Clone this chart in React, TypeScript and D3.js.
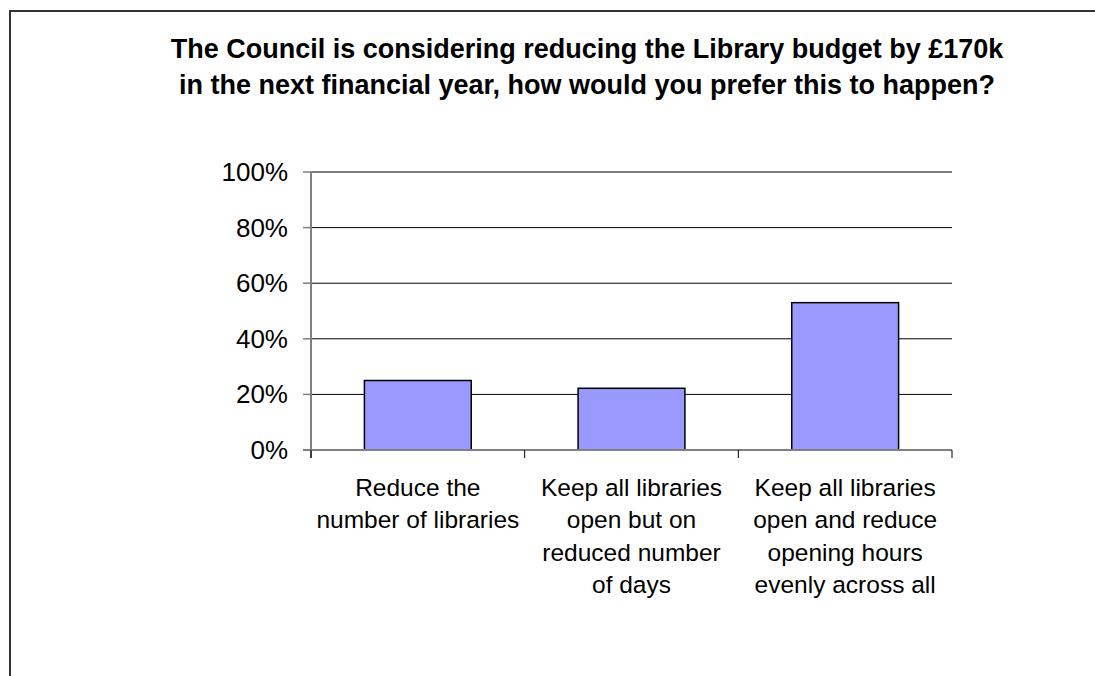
import React from "react";
import * as d3 from "d3";

const titleLines = [
  "The Council is considering reducing the Library budget by £170k",
  "in the next financial year, how would you prefer this to happen?",
];
const categories = [
  "Reduce the number of libraries",
  "Keep all libraries open but on reduced number of days",
  "Keep all libraries open and reduce opening hours evenly across all",
];
const categoryLines = [
  ["Reduce the", "number of libraries"],
  ["Keep all libraries", "open but on", "reduced number", "of days"],
  ["Keep all libraries", "open and reduce", "opening hours", "evenly across all"],
];
const values = [0.25, 0.222, 0.53];
const yTicks = [0, 0.2, 0.4, 0.6, 0.8, 1.0];

const W = 1095;
const H = 676;
const plot = { left: 311, right: 952, top: 172, bottom: 450 };
const FONT = "'Liberation Sans', Arial, Helvetica, sans-serif";

export default function App() {
  const x = d3
    .scaleBand<string>()
    .domain(categories)
    .range([plot.left, plot.right])
    .paddingInner(0.5)
    .paddingOuter(0.25);
  const y = d3.scaleLinear().domain([0, 1]).range([plot.bottom, plot.top]);
  const fmt = d3.format(".0%");
  const step = x.step();
  const boundaries = d3.range(categories.length + 1).map((i) => plot.left + i * step);

  return (
    <svg
      width={W}
      height={H}
      style={{ position: "absolute", left: 0, top: 0, background: "#fff" }}
      fontFamily={FONT}
    >
      <rect x={0} y={0} width={W} height={H} fill="#fff" />
      <rect x={10} y={11} width={1300} height={900} fill="#fff" stroke="#333" strokeWidth={2} />

      {titleLines.map((t, i) => (
        <text
          key={i}
          x={587}
          y={58 + i * 36}
          textAnchor="middle"
          fontSize={27}
          fontWeight="bold"
          fill="#000"
        >
          {t}
        </text>
      ))}

      {yTicks.map((t) => (
        <g key={t}>
          {t > 0 && (
            <line x1={plot.left} x2={plot.right} y1={y(t)} y2={y(t)} stroke="#000" strokeWidth={1} />
          )}
          <line x1={plot.left - 8} x2={plot.left} y1={y(t)} y2={y(t)} stroke="#808080" strokeWidth={1.5} />
          <text x={288} y={y(t) + 9} textAnchor="end" fontSize={26} fill="#000">
            {fmt(t)}
          </text>
        </g>
      ))}

      {categories.map((c, i) => (
        <rect
          key={c}
          x={x(c)}
          y={y(values[i])}
          width={x.bandwidth()}
          height={plot.bottom - y(values[i])}
          fill="#9999FF"
          stroke="#000"
          strokeWidth={1.5}
        />
      ))}

      <line x1={plot.left} x2={plot.left} y1={plot.top} y2={plot.bottom + 8} stroke="#808080" strokeWidth={2} />
      <line x1={plot.left - 8} x2={plot.right} y1={plot.bottom} y2={plot.bottom} stroke="#808080" strokeWidth={2} />
      {boundaries.map((b, i) => (
        <line key={i} x1={b} x2={b} y1={plot.bottom} y2={plot.bottom + 8} stroke="#000" strokeWidth={1} />
      ))}

      {categories.map((c, i) => (
        <text key={c} textAnchor="middle" fontSize={24.5} fill="#000">
          {categoryLines[i].map((l, j) => (
            <tspan key={j} x={(x(c) as number) + x.bandwidth() / 2} y={496 + j * 32.3}>
              {l}
            </tspan>
          ))}
        </text>
      ))}
    </svg>
  );
}
